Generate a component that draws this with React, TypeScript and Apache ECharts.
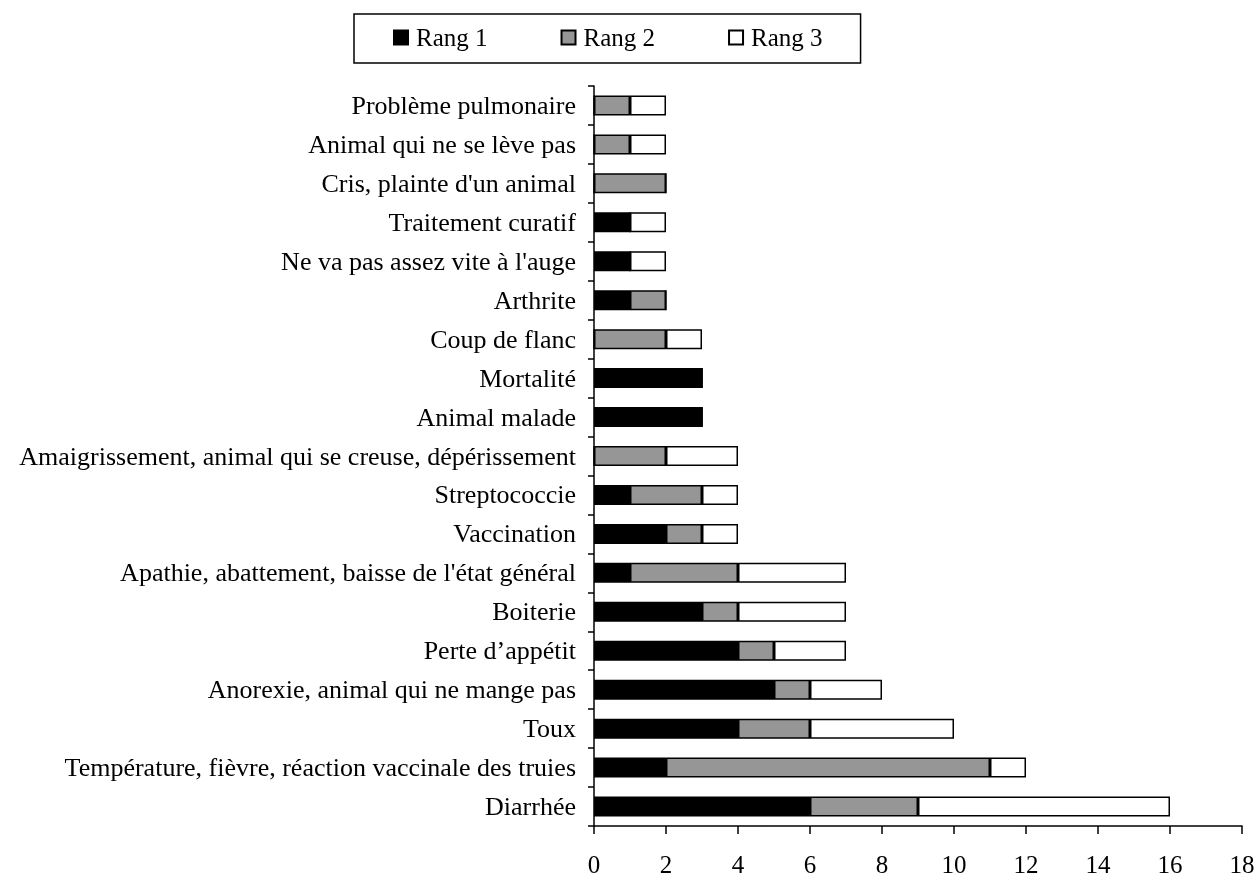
import React, { useEffect, useRef } from "react";
import * as echarts from "echarts";

const categories = [
  "Diarrhée",
  "Température, fièvre, réaction vaccinale des truies",
  "Toux",
  "Anorexie, animal qui ne mange pas",
  "Perte d’appétit",
  "Boiterie",
  "Apathie, abattement, baisse de l'état général",
  "Vaccination",
  "Streptococcie",
  "Amaigrissement, animal qui se creuse, dépérissement",
  "Animal malade",
  "Mortalité",
  "Coup de flanc",
  "Arthrite",
  "Ne va pas assez vite à l'auge",
  "Traitement curatif",
  "Cris, plainte d'un animal",
  "Animal qui ne se lève pas",
  "Problème pulmonaire",
];

const rang1 = [6, 2, 4, 5, 4, 3, 1, 2, 1, 0, 3, 3, 0, 1, 1, 1, 0, 0, 0];
const rang2 = [3, 9, 2, 1, 1, 1, 3, 1, 2, 2, 0, 0, 2, 1, 0, 0, 2, 1, 1];
const rang3 = [7, 1, 4, 2, 2, 3, 3, 1, 1, 2, 0, 0, 1, 0, 1, 1, 0, 1, 1];

const seriesNames = ["Rang 1", "Rang 2", "Rang 3"];
const seriesColors = ["#000000", "#969696", "#ffffff"];

export default function App() {
  const ref = useRef<HTMLDivElement>(null);
  useEffect(() => {
    if (!ref.current) return;
    const chart = echarts.init(ref.current, null, { renderer: "svg" });
    const font = "'Liberation Serif', 'Times New Roman', serif";
    const datasets = [rang1, rang2, rang3];
    chart.setOption({
      animation: false,
      textStyle: { fontFamily: font },
      legend: {
        left: 354,
        top: 14,
        itemWidth: 14,
        itemHeight: 14,
        itemGap: 73,
        borderColor: "#000",
        borderWidth: 1.5,
        padding: [11, 38, 13, 39],
        textStyle: { fontFamily: font, fontSize: 25, color: "#000", padding: [0, 0, 0, 3] },
        data: seriesNames.map((n) => ({ name: n, icon: "rect" })),
      },
      grid: { left: 594, right: 17, top: 86, bottom: 51, containLabel: false },
      xAxis: {
        type: "value",
        min: 0,
        max: 18,
        interval: 2,
        axisLine: { show: true, lineStyle: { color: "#000", width: 1.5 } },
        axisTick: { show: true, length: 8, lineStyle: { color: "#000", width: 1.5 } },
        splitLine: { show: false },
        axisLabel: { fontFamily: font, fontSize: 25, color: "#000", margin: 26 },
      },
      yAxis: {
        type: "category",
        data: categories,
        axisLine: { show: true, lineStyle: { color: "#000", width: 1.5 } },
        axisTick: { show: true, length: 6, alignWithLabel: false, lineStyle: { color: "#000", width: 1.5 } },
        axisLabel: { fontFamily: font, fontSize: 26, color: "#000", margin: 18 },
        splitLine: { show: false },
      },
      series: seriesNames.map((name, i) => ({
        name,
        type: "bar",
        stack: "total",
        barWidth: 20,
        data: datasets[i],
        itemStyle: { color: seriesColors[i], borderColor: "#000", borderWidth: 1.5 },
      })),
    });
    return () => chart.dispose();
  }, []);
  return (
    <div
      ref={ref}
      style={{ position: "fixed", left: 0, top: 0, width: 1259, height: 877 }}
    />
  );
}
